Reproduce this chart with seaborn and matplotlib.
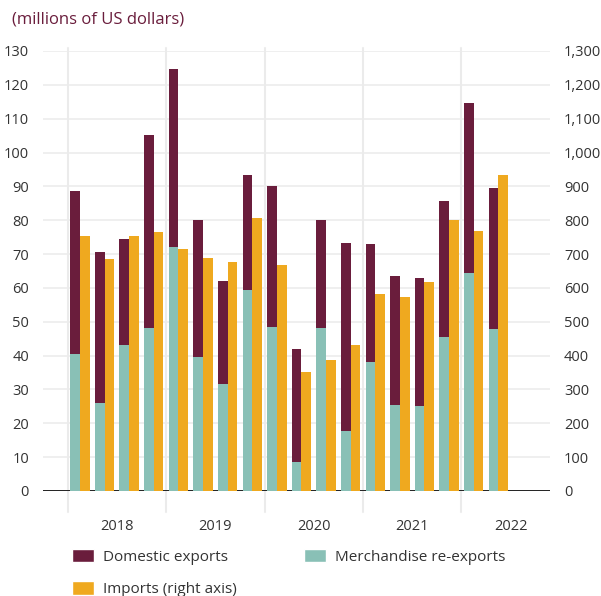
import numpy as np
import pandas as pd
import matplotlib
matplotlib.use("Agg")
import matplotlib.pyplot as plt
from matplotlib.patches import Patch
from matplotlib.ticker import FuncFormatter, MultipleLocator
import seaborn as sns

# Quarterly trade, millions of US dollars
quarters = ["2018Q1", "2018Q2", "2018Q3", "2018Q4",
            "2019Q1", "2019Q2", "2019Q3", "2019Q4",
            "2020Q1", "2020Q2", "2020Q3", "2020Q4",
            "2021Q1", "2021Q2", "2021Q3", "2021Q4",
            "2022Q1", "2022Q2"]
domestic_exports = [48.1, 44.6, 31.3, 57.0,
                    52.6, 40.5, 30.4, 34.0,
                    41.7, 33.3, 31.9, 55.6,
                    34.9, 38.1, 37.8, 40.2,
                    50.2, 41.6]
reexports = [40.5, 26.0, 43.1, 48.2,
             72.1, 39.6, 31.6, 59.4,
             48.4, 8.6, 48.2, 17.7,
             38.1, 25.4, 25.1, 45.5,
             64.4, 47.9]
imports = [753, 685, 753, 765,
           715, 688, 676, 806,
           668, 352, 387, 431,
           582, 573, 617, 801,
           768, 934]
years = ["2018", "2019", "2020", "2021", "2022"]

MAROON = "#6A1D3C"
TEAL = "#89C0B6"
ORANGE = "#EFA91F"
GRID = "#EBEBEB"
TEXT = "#333333"

sns.set_theme(style="white")
plt.rcParams["font.family"] = ["Open Sans", "DejaVu Sans"]

pos = np.arange(len(quarters), dtype=float)
bw = 0.394
df = pd.DataFrame({
    "quarter": quarters,
    "x_exp": pos - bw / 2,
    "x_imp": pos + bw / 2,
    "domestic": domestic_exports,
    "reexports": reexports,
    "imports": imports,
})
df["total_exports"] = df["domestic"] + df["reexports"]

fig = plt.figure(figsize=(6.01, 5.96), dpi=100)
ax = fig.add_axes([43 / 601, 105 / 596, 507 / 601, 440 / 596])

# Exports stacked: domestic on top of re-exports
sns.barplot(data=df, x="x_exp", y="total_exports", native_scale=True,
            width=bw, color=MAROON, saturation=1, errorbar=None,
            linewidth=0, ax=ax, zorder=3)
sns.barplot(data=df, x="x_exp", y="reexports", native_scale=True,
            width=bw, color=TEAL, saturation=1, errorbar=None,
            linewidth=0, ax=ax, zorder=3)

ax2 = ax.twinx()
sns.barplot(data=df, x="x_imp", y="imports", native_scale=True,
            width=bw, color=ORANGE, saturation=1, errorbar=None,
            linewidth=0, ax=ax2, zorder=3)

ax.set_xlim(-1.5, 19.1)
ax2.set_xlim(-1.5, 19.1)
ax.set_ylim(0, 130)
ax2.set_ylim(0, 1300)

ax.yaxis.set_major_locator(MultipleLocator(10))
ax2.yaxis.set_major_locator(MultipleLocator(100))
ax2.yaxis.set_major_formatter(FuncFormatter(lambda v, p: f"{int(v):,}"))

ax.grid(axis="y", color=GRID, linewidth=1.1, zorder=0)
ax.grid(axis="x", visible=False)
ax2.grid(False)
ax.set_axisbelow(True)

# Year separators reaching below the baseline
for b in [-0.5, 3.5, 7.5, 11.5, 15.5]:
    ax.plot([b, b], [-6.3, 131], color=GRID, linewidth=1.5,
            clip_on=False, zorder=0)
ax.axhline(0, color="#222222", linewidth=1.4, zorder=2)

year_centers = [1.5, 5.5, 9.5, 13.5, 17.5]
ax.tick_params(axis="x", length=0, pad=20, labelsize=10.5, labelcolor=TEXT)
ax.tick_params(axis="y", length=0, pad=10, labelsize=10.5, labelcolor=TEXT)
ax2.tick_params(axis="y", length=0, pad=10, labelsize=10.5, labelcolor=TEXT)
ax2.set_xticks([])
ax.set_xlabel("")
ax.set_ylabel("")
ax2.set_ylabel("")
for a in (ax, ax2):
    for s in a.spines.values():
        s.set_visible(False)
ax.set_xticks(year_centers)
ax.set_xticklabels(years)

fig.text(12 / 601, 1 - 20 / 596, "(millions of US dollars)", color=MAROON,
         fontsize=12, va="center", ha="left")

handles = [Patch(facecolor=MAROON, label="Domestic exports"),
           Patch(facecolor=ORANGE, label="Imports (right axis)"),
           Patch(facecolor=TEAL, label="Merchandise re-exports")]
fig.legend(handles=handles, loc="upper left", ncol=2,
           bbox_to_anchor=(58 / 601, 1 - 535 / 596), frameon=False,
           fontsize=11, handlelength=1.45, handleheight=1.0,
           handletextpad=0.6, columnspacing=4.4, labelspacing=1.05,
           labelcolor=TEXT)

fig.savefig("out.png", dpi=100)
